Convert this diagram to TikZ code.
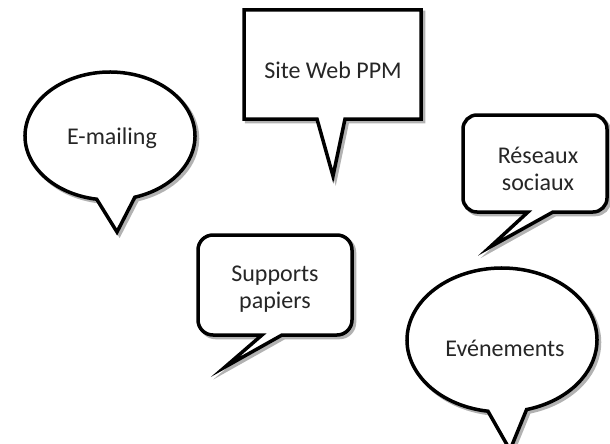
\documentclass[tikz,border=0pt]{standalone}
\usepackage{fontspec}
\setmainfont{Carlito}
\tikzset{
  bubble/.style={draw=black, line width=3.5pt, fill=white, line join=miter,
    preaction={draw=black!30, line width=3.5pt, transform canvas={shift={(2.5pt,-2.5pt)}}}},
  label/.style={text=black!85, font=\fontsize{24}{27}\selectfont, align=center}
}
\begin{document}
\begin{tikzpicture}[x=1pt, y=-1pt]
\useasboundingbox (0,0) rectangle (610,444);
% site web
\draw [bubble] (244,10) -- (421,10) -- (421,119) -- (345,119) -- (333,176) -- (317,119) -- (244,119) -- cycle;
\node [label] (site) at (333,70) {Site Web PPM};
% e-mailing
\draw [bubble] (110,136) ++(99:85 and 64) arc [start angle=99, end angle=433, x radius=85, y radius=64] -- (117,232) -- cycle;
\node [label] (mail) at (112,138) {E-mailing};
% reseaux sociaux
\draw [bubble] (528,212) [rounded corners=14pt] -- (463,212) -- (463,115) -- (607,115) -- (607,212) [sharp corners] -- (553,212) -- (490,247) -- cycle;
\node [label] (reseaux) at (538,169) {Réseaux\\sociaux};
% supports papiers
\draw [bubble] (262,335) [rounded corners=15pt] -- (198,335) -- (198,235) -- (352,235) -- (352,335) [sharp corners] -- (282,335) -- (225,367) -- cycle;
\node [label] (papier) at (275,289) {Supports\\papiers};
% evenements
\draw [bubble] (502,340) ++(98.5:95 and 72) arc [start angle=98.5, end angle=435, x radius=95, y radius=72] -- (510,450) -- cycle;
\node [label] (event) at (505,348) {Evénements};
\end{tikzpicture}
\end{document}
